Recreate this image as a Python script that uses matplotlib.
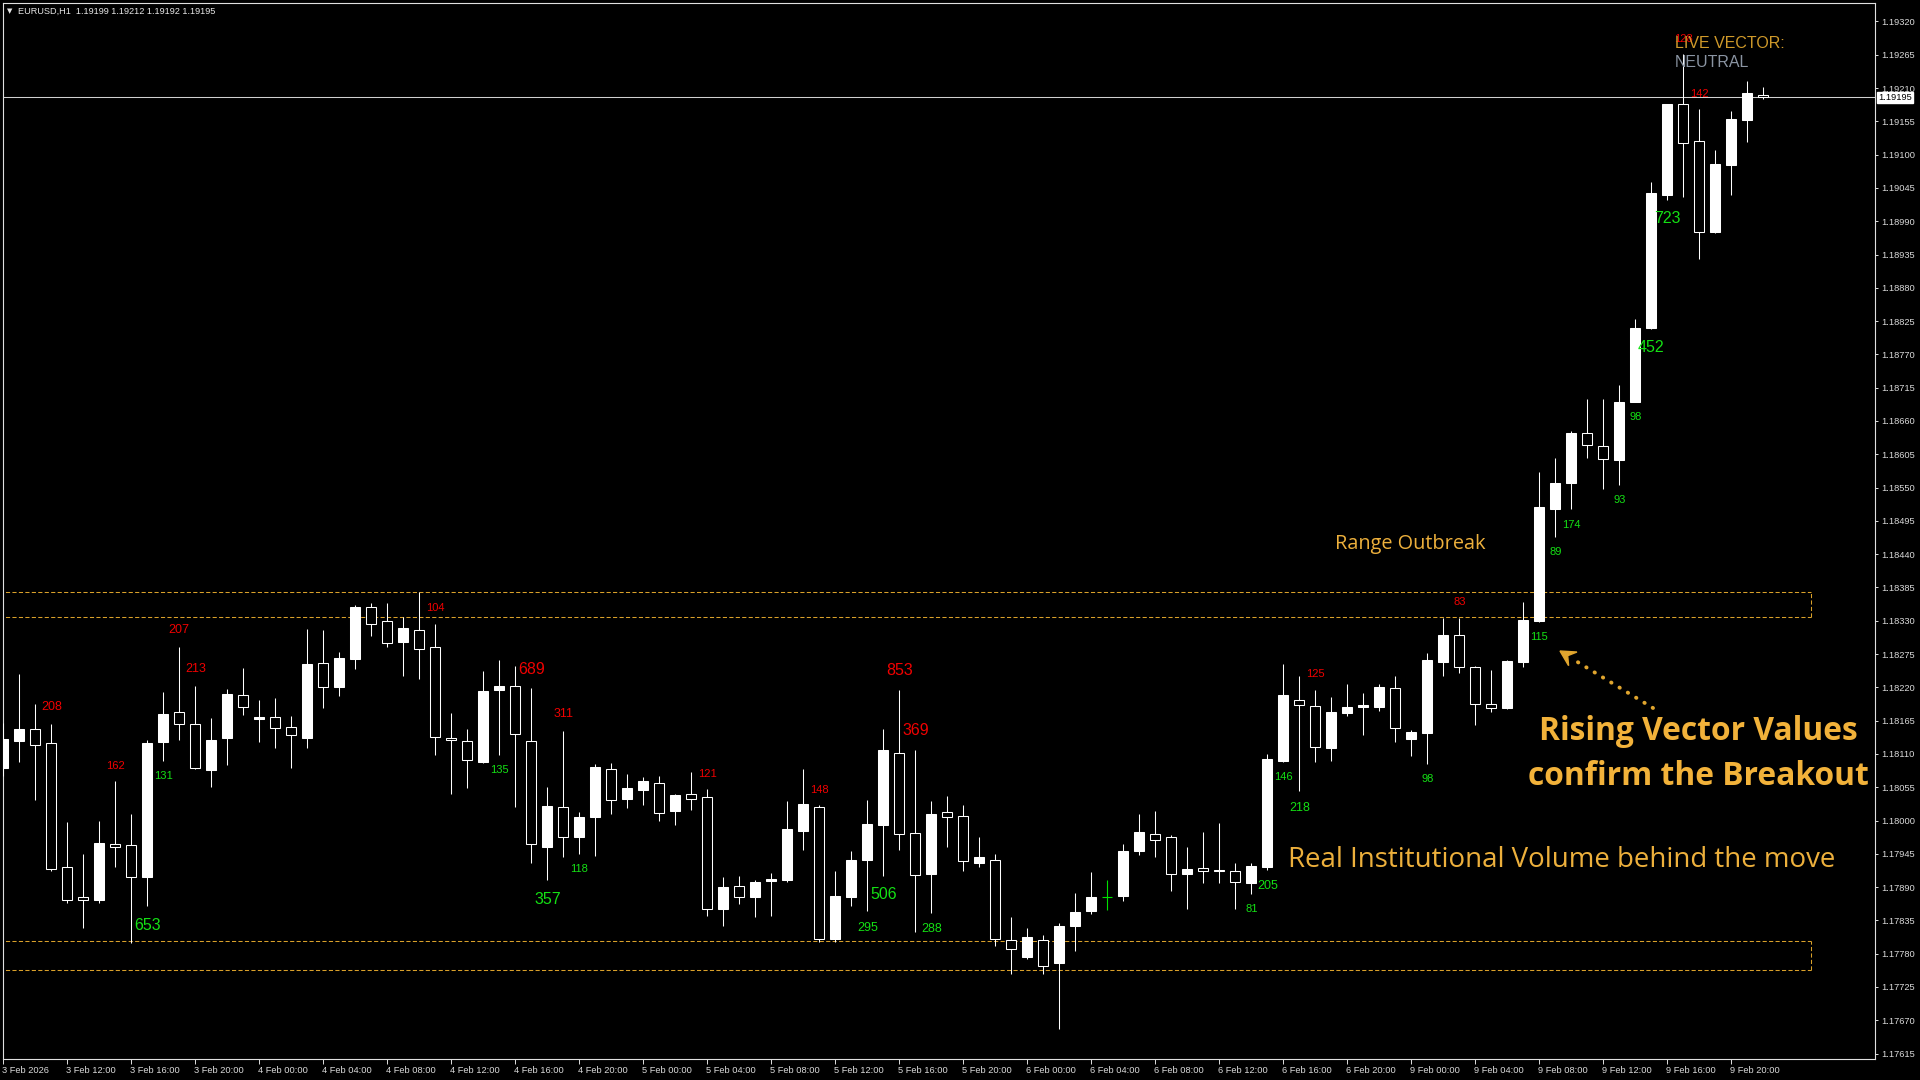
import matplotlib
matplotlib.use("Agg")
import matplotlib.pyplot as plt
import numpy as np
from matplotlib.lines import Line2D
from matplotlib.patches import Polygon
from matplotlib.transforms import ScaledTranslation, blended_transform_factory

# ---------------- data ----------------
symbol = "EURUSD,H1"

opens = [1.18087, 1.18132, 1.18151, 1.18128, 1.17923, 1.17873, 1.17869, 1.17961, 1.17959, 1.17906,
         1.18129, 1.18179, 1.18159, 1.18084, 1.18137, 1.18207, 1.18168, 1.18171, 1.18154, 1.18137,
         1.18260, 1.18220, 1.18266, 1.18352, 1.18329, 1.18295, 1.18314, 1.18286, 1.18136, 1.18131,
         1.18097, 1.18216, 1.18222, 1.18131, 1.17957, 1.18022, 1.17972, 1.18006, 1.18085, 1.18036,
         1.18051, 1.18062, 1.18015, 1.18043, 1.18039, 1.17853, 1.17892, 1.17874, 1.17900, 1.17901,
         1.17982, 1.18023, 1.17805, 1.17873, 1.17934, 1.17992, 1.18111, 1.17979, 1.17911, 1.18014,
         1.18007, 1.17930, 1.17934, 1.17802, 1.17775, 1.17802, 1.17764, 1.17825, 1.17850, 1.17873,
         1.17875, 1.17949, 1.17977, 1.17972, 1.17911, 1.17921, 1.17916, 1.17916, 1.17896, 1.17924,
         1.18099, 1.18199, 1.18189, 1.18119, 1.18177, 1.18188, 1.18188, 1.18219, 1.18135, 1.18144,
         1.18262, 1.18306, 1.18253, 1.18193, 1.18186, 1.18262, 1.18329, 1.18514, 1.18558, 1.18640,
         1.18618, 1.18596, 1.18692, 1.18813, 1.19034, 1.19183, 1.19122, 1.18973, 1.19083, 1.19158,
         1.19199]
highs = [1.18161, 1.18242, 1.18193, 1.18160, 1.17998, 1.17945, 1.17999, 1.18065, 1.18011, 1.18133,
         1.18212, 1.18287, 1.18222, 1.18169, 1.18217, 1.18252, 1.18199, 1.18203, 1.18173, 1.18316,
         1.18315, 1.18278, 1.18356, 1.18359, 1.18359, 1.18337, 1.18377, 1.18325, 1.18178, 1.18151,
         1.18247, 1.18265, 1.18255, 1.18219, 1.18056, 1.18148, 1.18014, 1.18093, 1.18095, 1.18077,
         1.18072, 1.18074, 1.18044, 1.18080, 1.18052, 1.17907, 1.17909, 1.17901, 1.17913, 1.18032,
         1.18085, 1.18025, 1.17917, 1.17950, 1.18034, 1.18151, 1.18216, 1.18117, 1.18032, 1.18041,
         1.18026, 1.17973, 1.17944, 1.17841, 1.17823, 1.17811, 1.17830, 1.17880, 1.17915, 1.17902,
         1.17961, 1.18011, 1.18016, 1.17976, 1.17956, 1.17981, 1.17996, 1.17930, 1.17930, 1.18110,
         1.18259, 1.18239, 1.18216, 1.18204, 1.18226, 1.18211, 1.18226, 1.18239, 1.18150, 1.18277,
         1.18335, 1.18335, 1.18255, 1.18249, 1.18265, 1.18361, 1.18576, 1.18599, 1.18644, 1.18696,
         1.18696, 1.18719, 1.18828, 1.19054, 1.19184, 1.19266, 1.19175, 1.19108, 1.19172, 1.19222,
         1.19212]
lows = [1.18074, 1.18096, 1.18034, 1.17917, 1.17863, 1.17823, 1.17864, 1.17924, 1.17797, 1.17858,
        1.18098, 1.18133, 1.18085, 1.18056, 1.18092, 1.18175, 1.18130, 1.18120, 1.18086, 1.18120,
        1.18186, 1.18206, 1.18251, 1.18304, 1.18286, 1.18238, 1.18234, 1.18109, 1.18043, 1.18054,
        1.18095, 1.18109, 1.18023, 1.17929, 1.17901, 1.17939, 1.17945, 1.17942, 1.18011, 1.18021,
        1.18026, 1.18000, 1.17993, 1.18018, 1.17842, 1.17825, 1.17862, 1.17840, 1.17842, 1.17899,
        1.17951, 1.17800, 1.17800, 1.17858, 1.17850, 1.17909, 1.17951, 1.17815, 1.17848, 1.17957,
        1.17917, 1.17924, 1.17793, 1.17746, 1.17772, 1.17747, 1.17655, 1.17784, 1.17845, 1.17852,
        1.17867, 1.17943, 1.17940, 1.17883, 1.17853, 1.17897, 1.17896, 1.17853, 1.17879, 1.17919,
        1.18097, 1.18048, 1.18097, 1.18099, 1.18173, 1.18142, 1.18181, 1.18130, 1.18107, 1.18094,
        1.18238, 1.18244, 1.18157, 1.18180, 1.18185, 1.18254, 1.18328, 1.18469, 1.18514, 1.18599,
        1.18548, 1.18555, 1.18691, 1.18812, 1.19025, 1.19030, 1.18928, 1.18971, 1.19033, 1.19121,
        1.19192]
closes = [1.18134, 1.18151, 1.18125, 1.17920, 1.17868, 1.17868, 1.17963, 1.17957, 1.17906, 1.18128,
          1.18176, 1.18160, 1.18087, 1.18133, 1.18209, 1.18187, 1.18171, 1.18153, 1.18141, 1.18259,
          1.18220, 1.18268, 1.18352, 1.18325, 1.18293, 1.18318, 1.18284, 1.18138, 1.18133, 1.18100,
          1.18214, 1.18222, 1.18143, 1.17961, 1.18024, 1.17973, 1.18005, 1.18088, 1.18034, 1.18053,
          1.18065, 1.18012, 1.18042, 1.18035, 1.17854, 1.17890, 1.17873, 1.17898, 1.17904, 1.17986,
          1.18027, 1.17804, 1.17875, 1.17935, 1.17994, 1.18117, 1.17977, 1.17910, 1.18011, 1.18005,
          1.17933, 1.17939, 1.17805, 1.17788, 1.17808, 1.17760, 1.17826, 1.17849, 1.17874, 1.17873,
          1.17950, 1.17981, 1.17968, 1.17911, 1.17920, 1.17916, 1.17918, 1.17899, 1.17925, 1.18102,
          1.18207, 1.18190, 1.18121, 1.18179, 1.18187, 1.18191, 1.18220, 1.18152, 1.18146, 1.18265,
          1.18306, 1.18253, 1.18193, 1.18186, 1.18263, 1.18331, 1.18518, 1.18557, 1.18640, 1.18620,
          1.18598, 1.18691, 1.18813, 1.19037, 1.19183, 1.19120, 1.18973, 1.19084, 1.19159, 1.19202,
          1.19195]

# vector values printed above highs (red) and below lows (green)
vec_up_idx = [3, 7, 11, 12, 27, 33, 35, 44, 51, 56, 57, 82, 91, 105, 106]
vec_up_val = [208, 162, 207, 213, 104, 689, 311, 121, 148, 853, 369, 125, 83, 128, 142]
vec_dn_idx = [9, 10, 31, 34, 36, 54, 55, 58, 78, 79, 80, 81, 89, 96, 97, 98, 101, 102, 103, 104]
vec_dn_val = [653, 131, 135, 357, 118, 295, 506, 288, 81, 205, 146, 218, 98, 115, 89, 174, 93, 98, 452, 723]

x_tick_labels = ["3 Feb 2026", "3 Feb 12:00", "3 Feb 16:00", "3 Feb 20:00",
                 "4 Feb 00:00", "4 Feb 04:00", "4 Feb 08:00", "4 Feb 12:00", "4 Feb 16:00", "4 Feb 20:00",
                 "5 Feb 00:00", "5 Feb 04:00", "5 Feb 08:00", "5 Feb 12:00", "5 Feb 16:00", "5 Feb 20:00",
                 "6 Feb 00:00", "6 Feb 04:00", "6 Feb 08:00", "6 Feb 12:00", "6 Feb 16:00", "6 Feb 20:00",
                 "9 Feb 00:00", "9 Feb 04:00", "9 Feb 08:00", "9 Feb 12:00", "9 Feb 16:00", "9 Feb 20:00"]
x_tick_bars = [0, 4, 8, 12, 16, 20, 24, 28, 32, 36, 40, 44, 48, 52, 56, 60, 64, 68, 72, 76,
               80, 84, 88, 92, 96, 100, 104, 108]
y_ticks = [1.19320, 1.19265, 1.19210, 1.19155, 1.19100, 1.19045, 1.18990, 1.18935, 1.18880,
           1.18825, 1.18770, 1.18715, 1.18660, 1.18605, 1.18550, 1.18495, 1.18440, 1.18385,
           1.18330, 1.18275, 1.18220, 1.18165, 1.18110, 1.18055, 1.18000, 1.17945, 1.17890,
           1.17835, 1.17780, 1.17725, 1.17670, 1.17615]

upper_zone = [1.18337, 1.18377]
lower_zone = [1.17753, 1.17801]

# ---------------- figure ----------------
W, H = 1920, 1080
fig = plt.figure(figsize=(19.2, 10.8), dpi=100, facecolor="black")
ax = fig.add_axes([2.7 / W, (H - 1059) / H, (1874.7 - 2.7) / W, (1059 - 2.7) / H])
ax.set_facecolor("black")
ax.set_xlim(-0.0375, 116.96)
ax.set_ylim(1.17606, 1.19351)
for s in ax.spines.values():
    s.set_color("#E0E0E0")
    s.set_linewidth(0.8)

def P(x, y):
    return (x / W, 1 - y / H)

gold = "#D9A02A"
o = np.array(opens); h = np.array(highs); l = np.array(lows); c = np.array(closes)
x = np.arange(len(o))

# zones
zone_end = 113.0
for lo_, hi_ in (upper_zone, lower_zone):
    ax.hlines([lo_, hi_], -1, zone_end, colors=gold, lw=0.75, linestyles=(0, (4, 2.2)), zorder=2)
    ax.vlines(zone_end, lo_, hi_, colors=gold, lw=0.75, linestyles=(0, (4, 2.2)), zorder=2)

# current price line
ax.axhline(c[-1], color="#D0D0D0", lw=0.75, zorder=2)

# candles
bull = c > o
bear = c < o
doji = c == o
bw = 0.62
ax.vlines(x[~doji], l[~doji], h[~doji], colors="white", lw=0.75, zorder=3)
ax.bar(x[bull], (c - o)[bull], bottom=o[bull], width=bw, color="white",
       edgecolor="white", linewidth=0.75, zorder=4)
ax.bar(x[bear], (o - c)[bear], bottom=c[bear], width=bw, color="black",
       edgecolor="white", linewidth=0.75, zorder=4)
ax.vlines(x[doji], l[doji], h[doji], colors="#00E000", lw=0.8, zorder=3)
ax.hlines(o[doji], x[doji] - bw / 2, x[doji] + bw / 2, colors="#00E000", lw=0.8, zorder=3)

# vector labels
def tier(v):
    return 2 if v >= 350 else (1 if v >= 200 else 0)

sizes = [8, 9, 11.5]
offs = [11.0, 12.0, 13.6]
for i, v in zip(vec_up_idx, vec_up_val):
    t = tier(v)
    ax.annotate(str(v), xy=(i, h[i]), xytext=(0, offs[t]), textcoords="offset points",
                ha="center", va="center", color="#F00000", fontsize=sizes[t],
                family="Liberation Sans", zorder=6)
for i, v in zip(vec_dn_idx, vec_dn_val):
    t = tier(v)
    ax.annotate(str(v), xy=(i, l[i]), xytext=(0, -offs[t]), textcoords="offset points",
                ha="center", va="center", color="#14E014", fontsize=sizes[t],
                family="Liberation Sans", zorder=6)

# axes ticks
ax.yaxis.tick_right()
ax.set_yticks(y_ticks)
ax.set_yticklabels([f"{v:.5f}" for v in y_ticks], family="Liberation Sans")
ax.tick_params(axis="y", colors="#E0E0E0", labelcolor="#DADADA", direction="out",
               length=2.5, width=0.7, pad=2.5, labelsize=6.7)
ax.set_xticks(x_tick_bars)
ax.set_xticklabels(x_tick_labels, ha="left", family="Liberation Sans")
ax.tick_params(axis="x", colors="#E0E0E0", labelcolor="#DADADA", direction="out",
               length=3.5, width=0.7, pad=1.5, labelsize=6.7)
for lab in ax.get_xticklabels():
    lab.set_transform(lab.get_transform() + ScaledTranslation(-1 / 100, 0, fig.dpi_scale_trans))

# current price box
bt = blended_transform_factory(ax.transAxes, ax.transData)
ax.annotate(f"{closes[-1]:.5f}", xy=(1, c[-1]), xycoords=bt, xytext=(2.6, 0),
            textcoords="offset points", ha="left", va="center", fontsize=6.7,
            family="Liberation Sans", color="black", annotation_clip=False, zorder=10,
            bbox=dict(boxstyle="square,pad=0.12", fc="white", ec="white"))

# header
fig.text(*P(7, 11), "\u25BC", fontsize=5, color="#E6E6E6", va="center", ha="left",
         family="DejaVu Sans")
fig.text(*P(18, 11), f"{symbol}  {opens[-1]:.5f} {highs[-1]:.5f} {lows[-1]:.5f} {closes[-1]:.5f}",
         fontsize=6.55, color="#E6E6E6", va="center", ha="left", family="Liberation Sans")

# live vector panel
fig.text(*P(1675, 44), "LIVE VECTOR:", fontsize=11.5, color="#D09A2A", va="center", ha="left",
         family="Liberation Sans", zorder=5)
fig.text(*P(1675, 62.5), "NEUTRAL", fontsize=11.5, color="#8A94A2", va="center", ha="left",
         family="Liberation Sans")

# annotations
ann = "#EDB03C"
fig.text(*P(1335, 543.5), "Range Outbreak", fontsize=14.3, color=ann, va="center", ha="left",
         family="Open Sans")
fig.text(*P(1698, 731.5), "Rising Vector Values", fontsize=22.9, color="#F2B23A", va="center",
         ha="center", family="Open Sans", fontweight="bold")
fig.text(*P(1698, 776.5), "confirm the Breakout", fontsize=22.9, color="#F2B23A", va="center",
         ha="center", family="Open Sans", fontweight="bold")
fig.text(*P(1288, 860), "Real Institutional Volume behind the move", fontsize=19.9, color=ann,
         va="center", ha="left", family="Open Sans")

# dotted arrow pointing up-left to the breakout candle
arrow_col = "#E0A52E"
(xa, ya), (xb, yb) = P(1653, 708), P(1571, 658)
fig.add_artist(Line2D([xa, xb], [ya, yb], transform=fig.transFigure, color=arrow_col, lw=2.8,
                      linestyle=(0, (0.1, 2.4)), dash_capstyle="round"))
tip = np.array([1560.0, 651.0])
d = np.array([1653.0, 708.0]) - tip
d = d / np.hypot(*d)
perp = np.array([-d[1], d[0]])
pts_px = [tip, tip + 15 * d + 8 * perp, tip + 9 * d, tip + 15 * d - 8 * perp]
fig.add_artist(Polygon([P(*p) for p in pts_px], closed=True, transform=fig.transFigure,
                       facecolor=arrow_col, edgecolor=arrow_col, lw=1))

fig.savefig("out.png", dpi=100, facecolor="black")
